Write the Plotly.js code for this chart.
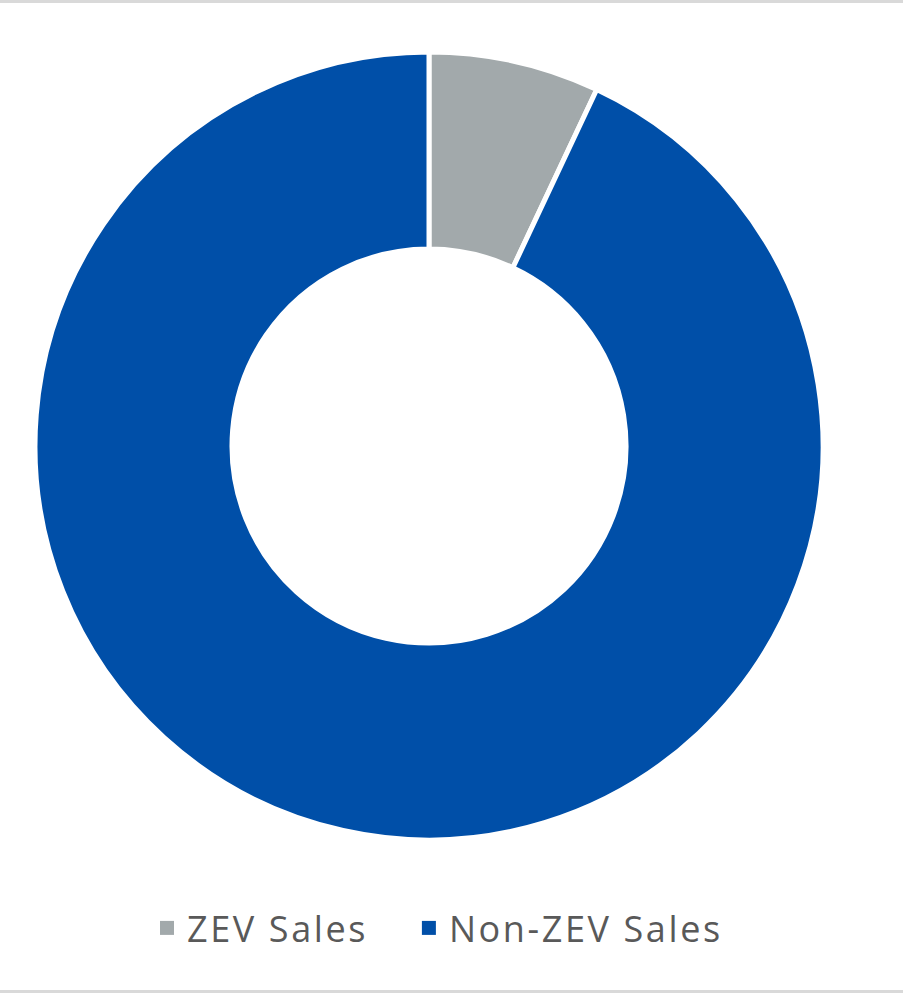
<!DOCTYPE html>
<html><head><meta charset="utf-8">
<script src="https://cdn.plot.ly/plotly-3.0.1.min.js"></script>
<style>
html,body{margin:0;padding:0;background:#fff;}
#wrap{position:relative;width:903px;height:993px;}
#chart{width:903px;height:993px;}
.bar{position:absolute;left:0;width:903px;height:3px;background:#d9d9d9;}
.legendtext{letter-spacing:2.6px;}
</style></head>
<body>
<div id="wrap"><div id="chart"></div><div class="bar" style="top:0"></div><div class="bar" style="top:990px"></div></div>
<script>
const categories = ["ZEV Sales", "Non-ZEV Sales"];
const shares = [7, 93];
const colors = ["#a2a9ab", "#004fa8"];

const traces = [{
  type: "pie",
  labels: categories,
  values: shares,
  hole: 0.5,
  sort: false,
  direction: "clockwise",
  rotation: 0,
  textinfo: "none",
  hoverinfo: "label+percent",
  showlegend: false,
  marker: {colors: colors, line: {color: "#ffffff", width: 5}},
  domain: {x: [35/903, 823/903], y: [153/993, 941/993]}
}];
categories.forEach((c, i) => traces.push({
  type: "scatter", mode: "markers", x: [null], y: [null],
  name: i < categories.length - 1 ? c + "\u00a0\u00a0\u00a0" : c,
  marker: {symbol: "square", size: 14, color: colors[i]}, showlegend: true
}));

Plotly.newPlot("chart", traces, {
  width: 903, height: 993,
  margin: {l: 0, r: 0, t: 0, b: 0},
  paper_bgcolor: "#ffffff", plot_bgcolor: "rgba(0,0,0,0)",
  xaxis: {visible: false}, yaxis: {visible: false},
  showlegend: true,
  legend: {orientation: "h", x: 147/903, xanchor: "left", y: 65/993, yanchor: "middle",
           font: {family: "Open Sans, sans-serif", size: 36, color: "#595959"},
           itemwidth: 30, traceorder: "normal"}
}, {displayModeBar: false, staticPlot: true});
</script>
</body></html>
